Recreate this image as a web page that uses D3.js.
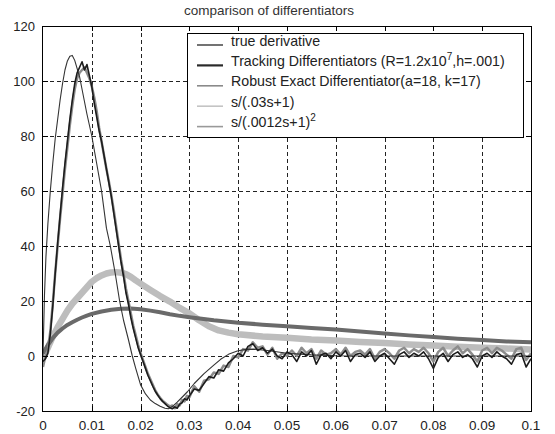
<!DOCTYPE html>
<html>
<head>
<meta charset="utf-8">
<script src="https://cdn.jsdelivr.net/npm/d3@7"></script>
<style>
  body { margin: 0; background: #fff; }
  text { font-family: "Liberation Sans", Arial, sans-serif; }
</style>
</head>
<body>
<div id="chart"></div>
<script>
// ---- values ----
const xTicks = [0, 0.01, 0.02, 0.03, 0.04, 0.05, 0.06, 0.07, 0.08, 0.09, 0.1];
const yTicks = [-20, 0, 20, 40, 60, 80, 100, 120];

const legendNames = [
  "true derivative",
  "Tracking Differentiators (R=1.2x10|7|,h=.001)",
  "Robust Exact Differentiator(a=18, k=17)",
  "s/(.03s+1)",
  "s/(.0012s+1)|2|"
];

// true derivative (thin)
const trueDeriv = [
  [0,0],[0.0003,22],[0.0006,36],[0.001,48],[0.0015,60],[0.002,70],[0.0025,79],[0.003,86],
  [0.0035,93],[0.004,99],[0.0045,104],[0.005,107.3],[0.0055,109],[0.006,109.3],[0.0065,107.5],
  [0.007,104.5],[0.0075,101.5],[0.008,97],[0.009,88],[0.01,80],[0.011,70],[0.012,60],
  [0.013,46.5],[0.0138,40],[0.0148,30],[0.0157,20],[0.0165,13],[0.0175,6],[0.0183,0],
  [0.019,-4.5],[0.02,-10.5],[0.021,-13.8],[0.022,-16],[0.023,-17.3],[0.024,-18.3],[0.025,-19],
  [0.0257,-19.2],[0.0265,-18.4],[0.0275,-16.8],[0.0285,-15],[0.0296,-13],[0.031,-10],
  [0.033,-6.4],[0.035,-3.3],[0.0364,-1.2],[0.038,0.6],[0.0398,1.8],[0.0415,2.4],[0.0432,2.5],
  [0.046,2],[0.05,1],[0.055,0.4],[0.06,0.1],[0.07,0],[0.08,0],[0.09,0],[0.1,0]
];

// Tracking Differentiators (dark, noisy)
const tracking = [
  [0,-2],[0.0005,-1],[0.001,1],[0.0015,8],[0.002,18],[0.0025,30],[0.003,41],[0.0035,51],
  [0.004,61],[0.0045,70],[0.005,78],[0.0055,86],[0.006,93],[0.0065,99],[0.007,103],
  [0.0075,105],[0.008,107],[0.0085,104],[0.009,106],[0.0095,102],[0.01,98],[0.0105,92],
  [0.011,87],[0.0115,82],[0.012,78],[0.0125,73],[0.013,68],[0.0135,63],[0.014,58],
  [0.0145,52],[0.015,46],[0.0155,40],[0.016,34],[0.0165,29],[0.017,23],[0.0175,19],
  [0.018,14],[0.0185,10],[0.019,6.5],[0.0195,3],[0.02,0.5],[0.0205,-2],[0.021,-4.5],
  [0.0215,-7],[0.022,-9],[0.0225,-11],[0.023,-12.8],[0.0235,-14.2],[0.024,-15.5],
  [0.0245,-16.5],[0.025,-17.3],[0.0255,-18.2],[0.026,-18.8],[0.0265,-19.2],[0.027,-18.5],
  [0.0275,-19],[0.028,-17.5],[0.0285,-17],[0.029,-15.5],[0.0295,-16],[0.03,-14.5],
  [0.031,-12],[0.032,-12.5],[0.033,-10],[0.034,-7.5],[0.035,-8],[0.036,-5],[0.037,-5.5],
  [0.038,-2.5],[0.039,-1],[0.04,1],[0.041,0],[0.042,3.5],[0.043,4.5],[0.044,2],[0.045,3],
  [0.046,1],[0.047,2.5],[0.048,0],[0.049,-1],[0.05,1.5],[0.051,0.5],[0.052,-2],[0.053,1.5],
  [0.054,0],[0.055,2],[0.056,-3],[0.057,0.5],[0.058,1],[0.059,-1],[0.06,1.5],[0.061,0],
  [0.062,2],[0.063,-2],[0.064,0.5],[0.065,1],[0.066,-0.5],[0.067,1.5],[0.068,-2],[0.069,0],
  [0.07,1],[0.071,-1],[0.072,-3],[0.073,0.5],[0.074,1.5],[0.075,-0.5],[0.076,1],[0.077,0],
  [0.078,1.5],[0.079,-1],[0.08,-4.5],[0.081,-0.5],[0.082,1],[0.083,-2],[0.084,0.5],
  [0.085,1.5],[0.086,-0.5],[0.087,0.5],[0.088,-1],[0.089,-4],[0.09,0],[0.091,1],[0.092,-0.5],
  [0.093,1.5],[0.094,0],[0.095,-1],[0.096,-3],[0.097,0.5],[0.098,1],[0.099,-4],[0.1,-1]
];

// Robust Exact Differentiator (dark grey band, slow)
const robust = [
  [0,1],[0.001,4],[0.002,6.5],[0.003,8.5],[0.004,10],[0.005,11.3],[0.006,12.3],[0.007,13.2],
  [0.008,14],[0.009,14.7],[0.01,15.3],[0.012,16.2],[0.014,16.8],[0.016,17.2],[0.018,17.3],
  [0.02,17],[0.022,16.5],[0.024,15.9],[0.026,15.2],[0.028,14.6],[0.03,14.1],[0.035,13],
  [0.04,12.1],[0.045,11.4],[0.05,10.8],[0.055,10.2],[0.06,9.6],[0.065,8.9],[0.07,8.2],
  [0.075,7.5],[0.08,6.9],[0.085,6.3],[0.09,5.8],[0.095,5.3],[0.1,5]
];

// s/(.03s+1) (light grey band)
const lowpass1 = [
  [0,-1],[0.001,3],[0.002,7],[0.003,10.5],[0.004,13.5],[0.005,16.5],[0.006,19],[0.007,21],
  [0.008,23],[0.009,25],[0.01,27],[0.011,28.3],[0.012,29.3],[0.013,30],[0.014,30.4],
  [0.015,30.5],[0.016,30.3],[0.017,29.8],[0.018,28.8],[0.019,27.5],[0.02,26.3],[0.022,24],
  [0.024,21.8],[0.026,19.8],[0.028,17.5],[0.03,15.5],[0.032,13],[0.034,10.8],[0.036,9.3],
  [0.038,8.5],[0.04,7.9],[0.045,7.1],[0.05,6.6],[0.055,6],[0.06,5.6],[0.065,5.1],[0.07,4.7],
  [0.075,4.2],[0.08,3.8],[0.085,3.4],[0.09,3],[0.095,2.7],[0.1,2.4]
];

// s/(.0012s+1)^2 (grey, follows the fast curves)
const lowpass2 = [
  [0,-4],[0.0005,0],[0.001,2],[0.0015,9],[0.002,19],[0.0025,30],[0.003,40],[0.0035,50],
  [0.004,59],[0.0045,68],[0.005,76],[0.0055,84],[0.006,91],[0.0065,97],[0.007,101],
  [0.0075,103],[0.008,104],[0.0085,105],[0.009,103],[0.0095,101],[0.01,98],[0.0105,94],
  [0.011,89],[0.0115,83],[0.012,78],[0.0125,73],[0.013,68],[0.0135,63.5],[0.014,58.5],
  [0.0145,53],[0.015,47],[0.0155,41],[0.016,35],[0.0165,30],[0.017,24.5],[0.0175,20],
  [0.018,15.5],[0.0185,11],[0.019,7.5],[0.0195,4],[0.02,1],[0.0205,-1.5],[0.021,-4],
  [0.0215,-6.5],[0.022,-8.5],[0.0225,-10.5],[0.023,-12.5],[0.0235,-14],[0.024,-15.2],
  [0.0245,-16.3],[0.025,-17],[0.0255,-17.8],[0.026,-18.3],[0.0265,-18],[0.027,-19],
  [0.0275,-17.5],[0.028,-18],[0.0285,-16],[0.029,-16.5],[0.0295,-14.5],[0.03,-15],
  [0.031,-11],[0.032,-13],[0.033,-9],[0.034,-8.5],[0.035,-6],[0.036,-6.5],[0.037,-3.5],
  [0.038,-4],[0.039,0],[0.04,-0.5],[0.041,2.5],[0.042,2],[0.043,5],[0.044,3],[0.045,3.5],
  [0.046,0.5],[0.047,3],[0.048,-1],[0.049,1],[0.05,0],[0.051,2],[0.052,0],[0.053,3],
  [0.054,1],[0.055,2.5],[0.056,-1],[0.057,2],[0.058,0.5],[0.059,1],[0.06,2.5],[0.061,0.5],
  [0.062,3],[0.063,0],[0.064,1.5],[0.065,2],[0.066,0.5],[0.067,2.5],[0.068,-1],[0.069,1.5],
  [0.07,2.5],[0.071,1],[0.072,-1],[0.073,2],[0.074,3],[0.075,1],[0.076,2.5],[0.077,1.5],
  [0.078,3],[0.079,1],[0.08,-2],[0.081,1.5],[0.082,3],[0.083,0],[0.084,2],[0.085,3.5],
  [0.086,1],[0.087,2.5],[0.088,0.5],[0.089,-2],[0.09,2],[0.091,3],[0.092,1],[0.093,3],
  [0.094,2],[0.095,0.5],[0.096,-1],[0.097,2.5],[0.098,3],[0.099,-1.5],[0.1,1]
];

// ---- drawing ----
const W = 555, H = 434;
const svg = d3.select("#chart").append("svg")
  .attr("width", W).attr("height", H)
  .style("background", "#fff");

const x = d3.scaleLinear().domain([0, 0.1]).range([43, 531]);
const y = d3.scaleLinear().domain([-20, 120]).range([411, 26]);
const px = v => Math.round(v) + 0.5;

// title
svg.append("text")
  .attr("x", 269).attr("y", 15)
  .attr("text-anchor", "middle")
  .style("font-size", "13.5px").style("fill", "#333")
  .text("comparison of differentiators");

// grid (dashed)
const grid = svg.append("g").attr("stroke", "#222").attr("stroke-width", 1)
  .attr("stroke-dasharray", "4,3");
xTicks.slice(1, -1).forEach(t => {
  grid.append("line").attr("x1", px(x(t))).attr("x2", px(x(t)))
    .attr("y1", y(120)).attr("y2", y(-20));
});
yTicks.slice(1, -1).forEach(v => {
  grid.append("line").attr("y1", px(y(v))).attr("y2", px(y(v)))
    .attr("x1", x(0)).attr("x2", x(0.1));
});

// curves
svg.append("clipPath").attr("id", "clip").append("rect")
  .attr("x", x(0)).attr("y", y(120)).attr("width", x(0.1) - x(0)).attr("height", y(-20) - y(120));
const line = d3.line().x(d => x(d[0])).y(d => y(d[1]));
const plot = svg.append("g").attr("clip-path", "url(#clip)").attr("fill", "none")
  .attr("stroke-linejoin", "round");

plot.append("path").datum(lowpass1).attr("d", line).attr("stroke", "#bdbdbd").attr("stroke-width", 6.5);
plot.append("path").datum(robust).attr("d", line).attr("stroke", "#6a6a6a").attr("stroke-width", 4);
plot.append("path").datum(lowpass2).attr("d", line).attr("stroke", "#8c8c8c").attr("stroke-width", 2.5);
plot.append("path").datum(trueDeriv).attr("d", line).attr("stroke", "#333").attr("stroke-width", 1.1);
plot.append("path").datum(tracking).attr("d", line).attr("stroke", "#1c1c1c").attr("stroke-width", 1.6);

// axes box + inward ticks
const axes = svg.append("g").attr("stroke", "#000").attr("stroke-width", 1);
axes.append("rect").attr("x", px(x(0)) - 1).attr("y", px(y(120)))
  .attr("width", px(x(0.1)) - px(x(0)) + 1).attr("height", px(y(-20)) - px(y(120)))
  .attr("fill", "none");
xTicks.slice(1, -1).forEach(t => {
  axes.append("line").attr("x1", px(x(t))).attr("x2", px(x(t))).attr("y1", y(120)).attr("y2", y(120) + 5);
  axes.append("line").attr("x1", px(x(t))).attr("x2", px(x(t))).attr("y1", y(-20)).attr("y2", y(-20) - 5);
});
yTicks.slice(1, -1).forEach(v => {
  axes.append("line").attr("y1", px(y(v))).attr("y2", px(y(v))).attr("x1", x(0)).attr("x2", x(0) + 5);
  axes.append("line").attr("y1", px(y(v))).attr("y2", px(y(v))).attr("x1", x(0.1)).attr("x2", x(0.1) - 5);
});

// tick labels
svg.append("g").selectAll("text").data(yTicks).join("text")
  .attr("x", 35).attr("y", d => y(d)).attr("dy", "0.36em")
  .attr("text-anchor", "end")
  .style("font-size", "13px").style("fill", "#222")
  .text(d => d);
svg.append("g").selectAll("text").data(xTicks).join("text")
  .attr("x", d => x(d)).attr("y", 430)
  .attr("text-anchor", "middle")
  .style("font-size", "13.5px").style("fill", "#222")
  .text(d => d === 0 ? "0" : String(+d.toFixed(2)));

// legend
const legendColors = ["#444", "#2a2a2a", "#8a8a8a", "#c4c4c4", "#999"];
const legendWidths = [1.5, 2.2, 1.6, 1.6, 1.6];
const lg = svg.append("g");
lg.append("rect").attr("x", 187.5).attr("y", 33.5).attr("width", 336).attr("height", 104)
  .attr("fill", "#fff").attr("stroke", "#000");
legendNames.forEach((name, i) => {
  const ly = 45 + i * 20.4;
  lg.append("line").attr("x1", 197).attr("x2", 223).attr("y1", ly).attr("y2", ly)
    .attr("stroke", legendColors[i]).attr("stroke-width", legendWidths[i]);
  const parts = name.split("|");
  const txt = lg.append("text").attr("x", 231).attr("y", ly + 0.5)
    .style("font-size", "14.2px").style("fill", "#222");
  parts.forEach((p, j) => {
    if (j % 2 === 1) {
      txt.append("tspan").attr("dy", -6).style("font-size", "10px").text(p);
    } else {
      const ts = txt.append("tspan").text(p);
      if (j > 0) ts.attr("dy", 6);
    }
  });
});
</script>
</body>
</html>
